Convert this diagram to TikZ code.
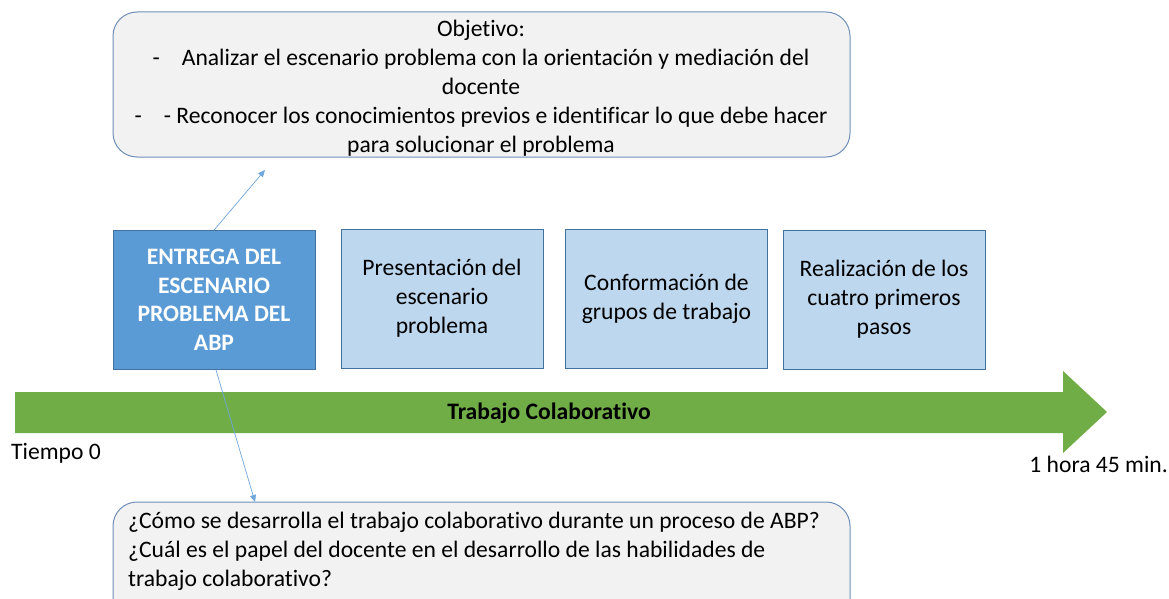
\documentclass[tikz,border=0pt]{standalone}
\usepackage{fontspec}
\setmainfont{Carlito}[Ligatures={NoCommon}]
\usetikzlibrary{arrows.meta}
\definecolor{boxgray}{HTML}{F2F2F2}
\definecolor{boxedge}{HTML}{6F8FB8}
\definecolor{darkblue}{HTML}{5B9BD5}
\definecolor{bluedge}{HTML}{41719C}
\definecolor{lightblue}{HTML}{BDD7EE}
\definecolor{green}{HTML}{70AD47}
\definecolor{linkblue}{HTML}{6FA6DB}
\tikzset{
  txt/.style={font=\fontsize{23.6}{29}\selectfont, inner sep=0pt},
  roundbox/.style={draw=boxedge, line width=1pt, fill=boxgray, rounded corners=24pt},
  stepbox/.style={draw=bluedge, line width=0.8pt, fill=lightblue, minimum width=202pt, minimum height=139pt, align=center, txt},
  mainbox/.style={stepbox, fill=darkblue, text=white, font=\fontsize{23.6}{28.5}\selectfont\bfseries},
  link/.style={draw=linkblue, line width=0.7pt, -{Triangle[length=7pt,width=6pt]}}
}
\begin{document}
\begin{tikzpicture}[x=1pt,y=-1pt]
\useasboundingbox (0,0) rectangle (1169,599);
% top objective box
\draw[roundbox] (113,12) rectangle (850,157);
\node[txt, align=center] (obj) at (481,88) {Objetivo:\\
-\hspace{22pt}Analizar el escenario problema con la orientación y mediación del\\
docente\\
-\hspace{22pt}- Reconocer los conocimientos previos e identificar lo que debe hacer\\
para solucionar el problema};
% step boxes
\node[mainbox] (e) at (214,300) {ENTREGA DEL\\ESCENARIO\\PROBLEMA DEL\\ABP};
\node[stepbox] (p) at (442,298.5) {Presentación del\\escenario\\problema};
\node[stepbox] (c) at (666.5,298.5) {Conformación de\\grupos de trabajo};
\node[stepbox] (r) at (884,299.5) {Realización de los\\cuatro primeros\\pasos};
% green arrow
\fill[green] (15,392) -- (1063,392) -- (1063,371) -- (1107,412) -- (1063,453) -- (1063,433) -- (15,433) -- cycle;
\node[txt, font=\fontsize{23.6}{29}\selectfont\bfseries] (tc) at (549,413) {Trabajo Colaborativo};
\node[txt, anchor=west] (t0) at (11,453) {Tiempo 0};
\node[txt, anchor=east] (t1) at (1168,464) {1 hora 45 min.};
% bottom question box
\draw[roundbox] (113,502) rectangle (850,640);
\node[txt, anchor=north west, align=left] (q) at (128,512) {¿Cómo se desarrolla el trabajo colaborativo durante un proceso de ABP?\\
¿Cuál es el papel del docente en el desarrollo de las habilidades de\\
trabajo colaborativo?};
% connectors
\coordinate (upend) at (265,170);
\coordinate (downend) at (255,502);
\draw[link] (e.north) -- (upend);
\draw[link] ([xshift=2pt]e.south) -- (downend);
\end{tikzpicture}
\end{document}
